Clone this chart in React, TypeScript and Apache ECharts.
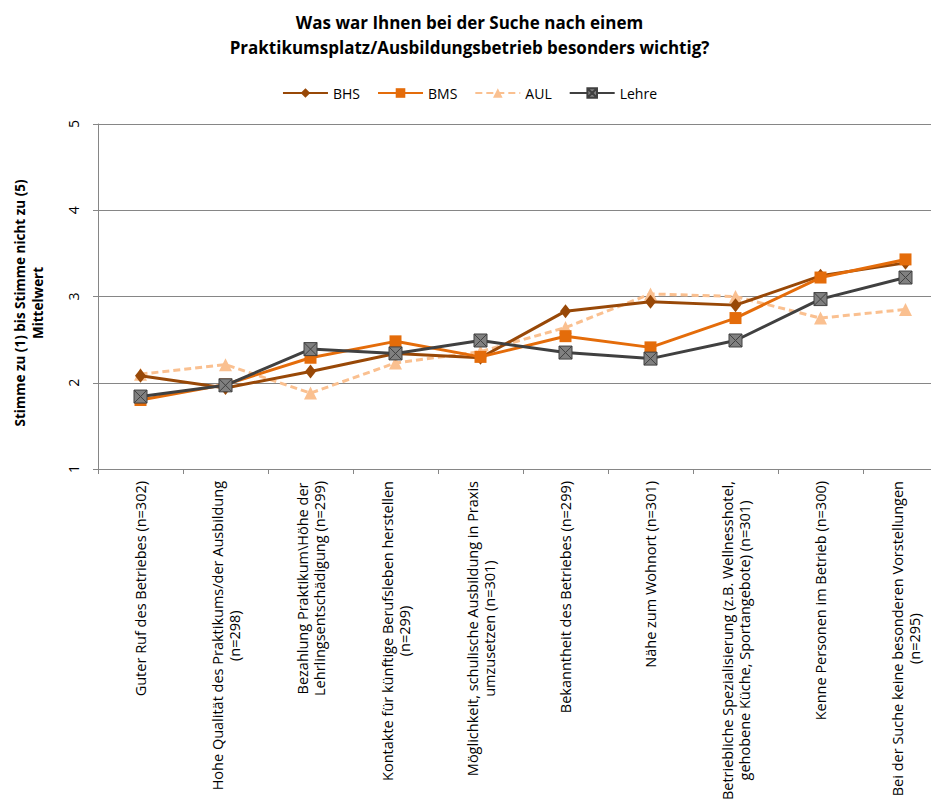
import React, { useEffect, useRef } from "react";
import * as echarts from "echarts";

const categories = [
  "Guter Ruf des Betriebes (n=302)",
  "Hohe Qualität des Praktikums/der Ausbildung\n(n=298)",
  "Bezahlung Praktikum\\Höhe der\nLehrlingsentschädigung (n=299)",
  "Kontakte für künftige Berufsleben herstellen\n(n=299)",
  "Möglichkeit, schulische Ausbildung in Praxis\numzusetzen (n=301)",
  "Bekanntheit des Betriebes (n=299)",
  "Nähe zum Wohnort (n=301)",
  "Betriebliche Spezialisierung (z.B. Wellnesshotel,\ngehobene Küche, Sportangebote) (n=301)",
  "Kenne Personen im Betrieb (n=300)",
  "Bei der Suche keine besonderen Vorstellungen\n(n=295)",
];

const bhs = [2.08, 1.94, 2.13, 2.34, 2.29, 2.83, 2.94, 2.9, 3.24, 3.39];
const bms = [1.8, 1.98, 2.29, 2.48, 2.3, 2.54, 2.41, 2.75, 3.22, 3.43];
const aul = [2.1, 2.21, 1.88, 2.23, 2.36, 2.64, 3.03, 3.0, 2.75, 2.85];
const lehre = [1.84, 1.97, 2.39, 2.34, 2.49, 2.35, 2.28, 2.49, 2.97, 3.22];

const titleText = "Was war Ihnen bei der Suche nach einem\nPraktikumsplatz/Ausbildungsbetrieb besonders wichtig?";
const yName1 = "Stimme zu (1) bis Stimme nicht zu (5)";
const yName2 = "Mittelwert";

const FONT = "'Open Sans', sans-serif";

export default function App() {
  const ref = useRef<HTMLDivElement>(null);
  useEffect(() => {
    if (!ref.current) return;
    const chart = echarts.init(ref.current, null, { renderer: "svg" });
    const boxSymbol = "path://M0 0H10V10H0Z M0 0L10 10 M10 0L0 10";
    chart.setOption({
      animation: false,
      backgroundColor: "#ffffff",
      textStyle: { fontFamily: FONT },
      title: {
        text: titleText,
        left: "center",
        top: 5,
        textStyle: {
          fontFamily: FONT,
          fontSize: 17,
          fontWeight: "bold",
          color: "#000",
          lineHeight: 25,
        },
      },
      legend: {
        top: 81,
        left: "center",
        itemWidth: 45,
        itemHeight: 12,
        itemGap: 17,
        textStyle: { fontFamily: FONT, fontSize: 14, color: "#000" },
        data: ["BHS", "BMS", "AUL", "Lehre"],
      },
      grid: {
        left: 98,
        right: -9,
        top: 124,
        bottom: 339,
        outerBoundsMode: "none",
        containLabel: false,
      },
      xAxis: {
        type: "category",
        data: categories,
        boundaryGap: true,
        axisLine: { lineStyle: { color: "#868686", width: 1 } },
        axisTick: { show: true, length: 5, lineStyle: { color: "#868686" } },
        axisLabel: {
          rotate: 90,
          interval: 0,
          margin: 12,
          fontFamily: FONT,
          fontSize: 14.5,
          color: "#000",
          lineHeight: 17,
          formatter: (v: string) =>
            v
              .split("\n")
              .map((l) => `{c|${l}}`)
              .join("\n"),
          rich: {
            c: { align: "center", fontFamily: FONT, fontSize: 14.5, color: "#000", lineHeight: 17 },
          },
        },
      },
      yAxis: {
        type: "value",
        min: 1,
        max: 5,
        interval: 1,
        axisLine: { show: true, lineStyle: { color: "#868686", width: 1 } },
        axisTick: { show: true, length: 5, lineStyle: { color: "#868686" } },
        axisLabel: { fontFamily: FONT, fontSize: 14, color: "#000", margin: 18, rotate: 90 },
        splitLine: { show: true, lineStyle: { color: "#868686", width: 1 } },
      },
      graphic: [
        {
          type: "text",
          x: 20,
          y: 303,
          rotation: Math.PI / 2,
          style: {
            text: yName1,
            fontFamily: FONT,
            fontSize: 13.5,
            fontWeight: "bold",
            fill: "#000",
            align: "center",
            verticalAlign: "middle",
          },
        },
        {
          type: "text",
          x: 38,
          y: 303,
          rotation: Math.PI / 2,
          style: {
            text: yName2,
            fontFamily: FONT,
            fontSize: 13.5,
            fontWeight: "bold",
            fill: "#000",
            align: "center",
            verticalAlign: "middle",
          },
        },
      ],
      series: [
        {
          name: "BHS",
          type: "line",
          data: bhs,
          symbol: "diamond",
          symbolSize: [11, 14],
          lineStyle: { color: "#984807", width: 3 },
          itemStyle: { color: "#984807" },
          z: 3,
        },
        {
          name: "BMS",
          type: "line",
          data: bms,
          symbol: "rect",
          symbolSize: 12,
          lineStyle: { color: "#E46C0A", width: 3 },
          itemStyle: { color: "#E46C0A" },
          z: 4,
        },
        {
          name: "AUL",
          type: "line",
          data: aul,
          symbol: "triangle",
          symbolSize: 13,
          lineStyle: { color: "#FAC090", width: 3, type: [7, 4] },
          itemStyle: { color: "#FAC090" },
          z: 2,
        },
        {
          name: "Lehre",
          type: "line",
          data: lehre,
          symbol: boxSymbol,
          symbolSize: 13,
          lineStyle: { color: "#404040", width: 3 },
          itemStyle: { color: "#808080", borderColor: "#404040", borderWidth: 1 },
          z: 5,
        },
      ],
    });
    return () => chart.dispose();
  }, []);
  return <div ref={ref} style={{ width: 939, height: 808, margin: -8 }} />;
}
